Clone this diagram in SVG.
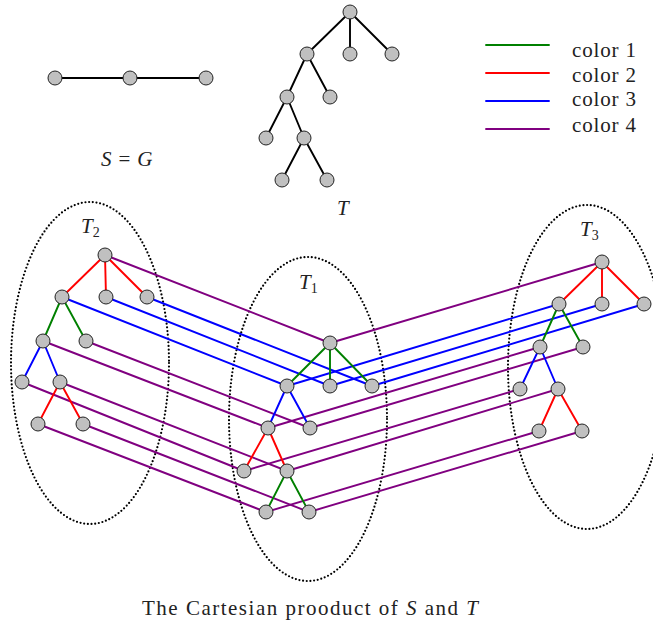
<svg xmlns="http://www.w3.org/2000/svg" width="653" height="628" viewBox="0 0 653 628">
<style>
.n{fill:#c0c0c0;stroke:#222;stroke-width:1}
.e{fill:none;stroke-width:1.9;stroke-linecap:round}
.k{stroke:#000}
.g{stroke:#008000}
.r{stroke:#ff0000}
.b{stroke:#0000ff}
.p{stroke:#800080}
.dot{fill:none;stroke:#000;stroke-width:2.2;stroke-linecap:round;stroke-dasharray:0 3.7}
.t{font-family:"Liberation Serif","DejaVu Serif",serif;font-size:21px;fill:#222}
.i{font-style:italic}
.sub{font-size:14px;font-style:normal}
</style>
<rect width="653" height="628" fill="#fff"/>

<!-- ellipses -->
<ellipse class="dot" cx="90" cy="363" rx="79" ry="161"/>
<ellipse class="dot" cx="308" cy="419" rx="79" ry="162"/>
<ellipse class="dot" cx="587" cy="367" rx="79" ry="162"/>

<g id="connectors">
<!-- S and T -->
<line class="e k" x1="55" y1="78" x2="206" y2="78"/>
<line class="e k" x1="350" y1="12" x2="307" y2="54"/>
<line class="e k" x1="350" y1="12" x2="350" y2="54"/>
<line class="e k" x1="350" y1="12" x2="392" y2="54"/>
<line class="e k" x1="307" y1="54" x2="287" y2="97"/>
<line class="e k" x1="307" y1="54" x2="330" y2="97"/>
<line class="e k" x1="287" y1="97" x2="266" y2="138"/>
<line class="e k" x1="287" y1="97" x2="304" y2="138"/>
<line class="e k" x1="304" y1="138" x2="282" y2="180"/>
<line class="e k" x1="304" y1="138" x2="327" y2="180"/>

<!-- T2 to T1 -->
<line class="e p" x1="105" y1="255" x2="330" y2="343"/>
<line class="e b" x1="62" y1="297" x2="287" y2="386"/>
<line class="e b" x1="106" y1="297" x2="330" y2="386"/>
<line class="e b" x1="147" y1="297" x2="372" y2="386"/>
<line class="e p" x1="43" y1="341" x2="268" y2="428"/>
<line class="e p" x1="86" y1="341" x2="310" y2="428"/>
<line class="e p" x1="22" y1="382" x2="244" y2="471"/>
<line class="e p" x1="60" y1="382" x2="287" y2="471"/>
<line class="e p" x1="38" y1="424" x2="266" y2="512"/>
<line class="e p" x1="83" y1="424" x2="309" y2="512"/>
<!-- T1 to T3 -->
<line class="e p" x1="330" y1="343" x2="602" y2="262"/>
<line class="e b" x1="287" y1="386" x2="559" y2="304"/>
<line class="e b" x1="330" y1="386" x2="602" y2="304"/>
<line class="e b" x1="372" y1="386" x2="644" y2="304"/>
<line class="e p" x1="268" y1="428" x2="540" y2="347"/>
<line class="e p" x1="310" y1="428" x2="583" y2="347"/>
<line class="e p" x1="244" y1="471" x2="520" y2="389"/>
<line class="e p" x1="287" y1="471" x2="558" y2="389"/>
<line class="e p" x1="266" y1="512" x2="539" y2="431"/>
<line class="e p" x1="309" y1="512" x2="582" y2="431"/>

<!-- T2 edges -->
<line class="e r" x1="105" y1="255" x2="62" y2="297"/>
<line class="e r" x1="105" y1="255" x2="106" y2="297"/>
<line class="e r" x1="105" y1="255" x2="147" y2="297"/>
<line class="e g" x1="62" y1="297" x2="43" y2="341"/>
<line class="e g" x1="62" y1="297" x2="86" y2="341"/>
<line class="e b" x1="43" y1="341" x2="22" y2="382"/>
<line class="e b" x1="43" y1="341" x2="60" y2="382"/>
<line class="e r" x1="60" y1="382" x2="38" y2="424"/>
<line class="e r" x1="60" y1="382" x2="83" y2="424"/>
<!-- T1 edges -->
<line class="e g" x1="330" y1="343" x2="287" y2="386"/>
<line class="e g" x1="330" y1="343" x2="330" y2="386"/>
<line class="e g" x1="330" y1="343" x2="372" y2="386"/>
<line class="e b" x1="287" y1="386" x2="268" y2="428"/>
<line class="e b" x1="287" y1="386" x2="310" y2="428"/>
<line class="e r" x1="268" y1="428" x2="244" y2="471"/>
<line class="e r" x1="268" y1="428" x2="287" y2="471"/>
<line class="e g" x1="287" y1="471" x2="266" y2="512"/>
<line class="e g" x1="287" y1="471" x2="309" y2="512"/>
<!-- T3 edges -->
<line class="e r" x1="602" y1="262" x2="559" y2="304"/>
<line class="e r" x1="602" y1="262" x2="602" y2="304"/>
<line class="e r" x1="602" y1="262" x2="644" y2="304"/>
<line class="e g" x1="559" y1="304" x2="540" y2="347"/>
<line class="e g" x1="559" y1="304" x2="583" y2="347"/>
<line class="e b" x1="540" y1="347" x2="520" y2="389"/>
<line class="e b" x1="540" y1="347" x2="558" y2="389"/>
<line class="e r" x1="558" y1="389" x2="539" y2="431"/>
<line class="e r" x1="558" y1="389" x2="582" y2="431"/>
</g>

<!-- S nodes -->
<g id="s1"><circle class="n" cx="55" cy="78" r="7"/></g>
<g id="s2"><circle class="n" cx="130" cy="78" r="7"/></g>
<g id="s3"><circle class="n" cx="206" cy="78" r="7"/></g>
<!-- T nodes -->
<g id="t_r"><circle class="n" cx="350" cy="12" r="7"/></g>
<g id="t_a"><circle class="n" cx="307" cy="54" r="7"/></g>
<g id="t_b"><circle class="n" cx="350" cy="54" r="7"/></g>
<g id="t_c"><circle class="n" cx="392" cy="54" r="7"/></g>
<g id="t_aa"><circle class="n" cx="287" cy="97" r="7"/></g>
<g id="t_ab"><circle class="n" cx="330" cy="97" r="7"/></g>
<g id="t_aaa"><circle class="n" cx="266" cy="138" r="7"/></g>
<g id="t_aab"><circle class="n" cx="304" cy="138" r="7"/></g>
<g id="t_aaba"><circle class="n" cx="282" cy="180" r="7"/></g>
<g id="t_aabb"><circle class="n" cx="327" cy="180" r="7"/></g>
<!-- T2 nodes -->
<g id="t2_r"><circle class="n" cx="105" cy="255" r="7"/></g>
<g id="t2_a"><circle class="n" cx="62" cy="297" r="7"/></g>
<g id="t2_b"><circle class="n" cx="106" cy="297" r="7"/></g>
<g id="t2_c"><circle class="n" cx="147" cy="297" r="7"/></g>
<g id="t2_aa"><circle class="n" cx="43" cy="341" r="7"/></g>
<g id="t2_ab"><circle class="n" cx="86" cy="341" r="7"/></g>
<g id="t2_aaa"><circle class="n" cx="22" cy="382" r="7"/></g>
<g id="t2_aab"><circle class="n" cx="60" cy="382" r="7"/></g>
<g id="t2_aaba"><circle class="n" cx="38" cy="424" r="7"/></g>
<g id="t2_aabb"><circle class="n" cx="83" cy="424" r="7"/></g>
<!-- T1 nodes -->
<g id="t1_r"><circle class="n" cx="330" cy="343" r="7"/></g>
<g id="t1_a"><circle class="n" cx="287" cy="386" r="7"/></g>
<g id="t1_b"><circle class="n" cx="330" cy="386" r="7"/></g>
<g id="t1_c"><circle class="n" cx="372" cy="386" r="7"/></g>
<g id="t1_aa"><circle class="n" cx="268" cy="428" r="7"/></g>
<g id="t1_ab"><circle class="n" cx="310" cy="428" r="7"/></g>
<g id="t1_aaa"><circle class="n" cx="244" cy="471" r="7"/></g>
<g id="t1_aab"><circle class="n" cx="287" cy="471" r="7"/></g>
<g id="t1_aaba"><circle class="n" cx="266" cy="512" r="7"/></g>
<g id="t1_aabb"><circle class="n" cx="309" cy="512" r="7"/></g>
<!-- T3 nodes -->
<g id="t3_r"><circle class="n" cx="602" cy="262" r="7"/></g>
<g id="t3_a"><circle class="n" cx="559" cy="304" r="7"/></g>
<g id="t3_b"><circle class="n" cx="602" cy="304" r="7"/></g>
<g id="t3_c"><circle class="n" cx="644" cy="304" r="7"/></g>
<g id="t3_aa"><circle class="n" cx="540" cy="347" r="7"/></g>
<g id="t3_ab"><circle class="n" cx="583" cy="347" r="7"/></g>
<g id="t3_aaa"><circle class="n" cx="520" cy="389" r="7"/></g>
<g id="t3_aab"><circle class="n" cx="558" cy="389" r="7"/></g>
<g id="t3_aaba"><circle class="n" cx="539" cy="431" r="7"/></g>
<g id="t3_aabb"><circle class="n" cx="582" cy="431" r="7"/></g>

<!-- legend -->
<g id="legend">
<line class="e g" x1="486" y1="45" x2="549" y2="45"/>
<line class="e r" x1="486" y1="73" x2="549" y2="73"/>
<line class="e b" x1="486" y1="101" x2="549" y2="101"/>
<line class="e p" x1="486" y1="129" x2="549" y2="129"/>
<text class="t" x="572" y="57" textLength="64">color 1</text>
<text class="t" x="572" y="82" textLength="64">color 2</text>
<text class="t" x="572" y="106" textLength="64">color 3</text>
<text class="t" x="572" y="132" textLength="64">color 4</text>
</g>

<!-- labels -->
<text class="t i" x="101" y="166"><tspan>S</tspan><tspan font-style="normal" dx="7">=</tspan><tspan dx="7">G</tspan></text>
<text class="t i" x="337" y="215">T</text>
<text class="t i" x="81" y="233">T<tspan class="sub" dx="0" dy="4">2</tspan></text>
<text class="t i" x="299" y="289">T<tspan class="sub" dx="0" dy="4">1</tspan></text>
<text class="t i" x="580" y="236">T<tspan class="sub" dx="0" dy="4">3</tspan></text>
<text class="t" x="142" y="615" textLength="336">The Cartesian prooduct of <tspan class="i">S</tspan> and <tspan class="i">T</tspan></text>
</svg>
